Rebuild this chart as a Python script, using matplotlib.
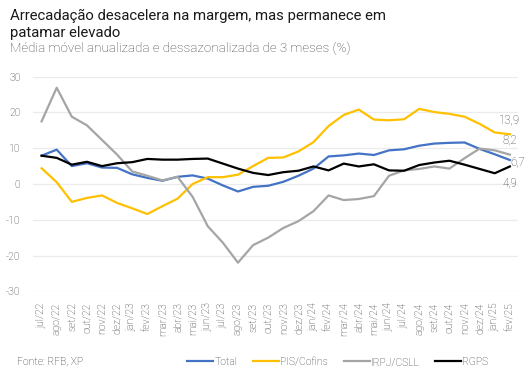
import numpy as np
import matplotlib
matplotlib.use("Agg")
import matplotlib.pyplot as plt

plt.rcParams['font.family'] = ['Roboto', 'DejaVu Sans']
plt.rcParams['axes.unicode_minus'] = False

# Dados (média móvel 3m, anualizada e dessazonalizada, %)
meses = ['jul/22', 'ago/22', 'set/22', 'out/22', 'nov/22', 'dez/22',
         'jan/23', 'fev/23', 'mar/23', 'abr/23', 'mai/23', 'jun/23',
         'jul/23', 'ago/23', 'set/23', 'out/23', 'nov/23', 'dez/23',
         'jan/24', 'fev/24', 'mar/24', 'abr/24', 'mai/24', 'jun/24',
         'jul/24', 'ago/24', 'set/24', 'out/24', 'nov/24', 'dez/24',
         'jan/25', 'fev/25']

total = [7.9, 9.6, 5.0, 5.8, 4.6, 4.5, 2.7, 1.7, 0.9, 2.0, 2.4, 1.5,
         -0.4, -2.1, -0.8, -0.5, 0.6, 2.3, 4.3, 7.7, 8.0, 8.5, 8.1, 9.4,
         9.7, 10.7, 11.3, 11.5, 11.6, 9.8, 8.3, 6.7]
pis_cofins = [4.4, 0.5, -5.0, -3.9, -3.2, -5.3, -6.8, -8.4, -6.2, -4.1,
              0.0, 1.9, 1.9, 2.6, 5.0, 7.3, 7.4, 9.1, 11.7, 16.2, 19.3,
              20.8, 18.0, 17.8, 18.1, 21.0, 20.1, 19.6, 18.8, 16.8, 14.4, 13.9]
irpj_csll = [17.5, 26.9, 18.8, 16.4, 12.3, 8.2, 3.5, 2.3, 1.0, 2.0, -3.6,
             -11.8, -16.4, -22.0, -17.1, -15.0, -12.3, -10.4, -7.6, -3.2,
             -4.5, -4.2, -3.4, 2.3, 3.8, 4.2, 4.9, 4.3, 7.2, 9.9, 9.4, 8.2]
rgps = [7.9, 7.3, 5.4, 6.2, 5.0, 5.8, 6.1, 7.0, 6.8, 6.8, 7.0, 7.1, 5.7,
        4.3, 3.1, 2.5, 3.3, 3.7, 4.9, 3.8, 5.7, 4.9, 5.5, 3.8, 3.7, 5.3,
        6.0, 6.5, 5.4, 4.2, 3.0, 4.9]

rotulos_finais = ['13,9', '8,2', '6,7', '4,9']

fig = plt.figure(figsize=(5.32, 3.73), dpi=100)
ax = fig.add_axes([0.062, 0.219, 0.912, 0.5755])

x = np.arange(len(meses))
ax.plot(x, total, color='#4472C4', lw=1.6, label='Total')
ax.plot(x, pis_cofins, color='#FFC000', lw=1.6, label='PIS/Cofins')
ax.plot(x, irpj_csll, color='#A5A5A5', lw=1.6, label='IRPJ/CSLL')
ax.plot(x, rgps, color='#000000', lw=1.6, label='RGPS')

ax.set_xlim(-0.57, len(meses) - 0.45)
ax.set_ylim(-30, 30)
ax.set_yticks([-30, -20, -10, 0, 10, 20, 30])
ax.set_yticklabels(['-30', '-20', '-10', '0', '10', '20', '30'])
ax.set_xticks(x)
ax.set_xticklabels(meses, rotation=90)
ax.tick_params(axis='both', length=0, labelsize=7.5, colors='#333333')
ax.tick_params(axis='y', pad=9)
ax.tick_params(axis='x', pad=8)
for lbl in ax.get_xticklabels() + ax.get_yticklabels():
    lbl.set_fontweight('light')
ax.grid(axis='y', color='#EBEBEB', lw=0.9)
ax.set_axisbelow(True)
for s in ax.spines.values():
    s.set_visible(False)

# rótulos dos últimos valores
n = len(meses) - 1
kw = dict(ha='center', va='center', fontsize=8.3, color='#404040', fontweight='light')
ax.text(n, 18.0, rotulos_finais[0], **kw)
ax.text(n, 12.4, rotulos_finais[1], **kw)
ax.text(n + 0.5, 6.2, rotulos_finais[2], **kw)
ax.text(n, 0.4, rotulos_finais[3], **kw)

fig.text(10 / 532, 1 - 20 / 373, 'Arrecadação desacelera na margem, mas permanece em',
         fontsize=10.7, color='#1a1a1a', va='baseline')
fig.text(10 / 532, 1 - 37 / 373, 'patamar elevado', fontsize=10.7, color='#1a1a1a', va='baseline')
fig.text(10 / 532, 1 - 52 / 373, 'Média móvel anualizada e dessazonalizada de 3 meses (%)',
         fontsize=9.6, color='#404040', va='baseline', fontweight='light')
fig.text(17 / 532, 1 - 362 / 373, 'Fonte: RFB, XP', fontsize=7.5, color='#262626', va='center',
         fontweight='light')

leg = fig.legend(loc='center', bbox_to_anchor=(338 / 532, 1 - 362 / 373), ncol=4, frameon=False,
                 fontsize=7.5, handlelength=2.5, handletextpad=0.1, columnspacing=1.5,
                 labelcolor='#333333')
for t in leg.get_texts():
    t.set_fontweight('light')

fig.savefig('out.png', dpi=100)
